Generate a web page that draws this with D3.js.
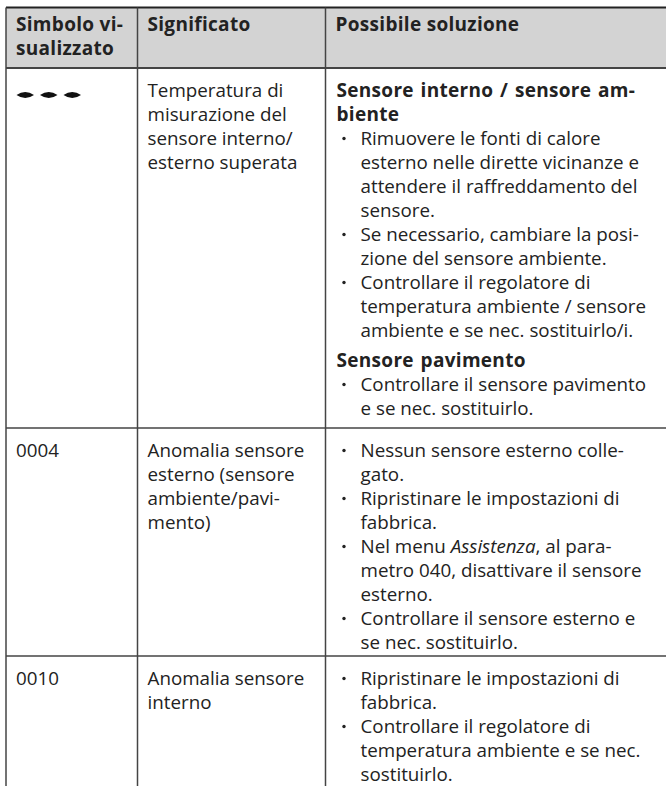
<!DOCTYPE html>
<html><head><meta charset="utf-8">
<script src="https://cdn.jsdelivr.net/npm/d3@7"></script>
<style>
html,body{margin:0;padding:0;background:#fff;}
svg{display:block;}
text{font-family:"Open Sans","Noto Sans",sans-serif;fill:#222;}
</style></head><body>
<svg id="c" width="666" height="786"></svg>
<script>
// ---- data ----
const headers = [["Simbolo vi-","sualizzato"],["Significato"],["Possibile soluzione"]];
const symbols = ["---", "0004", "0010"];
const meanings = [
  ["Temperatura di","misurazione del","sensore interno/","esterno superata"],
  ["Anomalia sensore","esterno (sensore","ambiente/pavi-","mento)"],
  ["Anomalia sensore","interno"]
];
const solutions = [
  [
    {k:"h", lines:["Sensore interno / sensore am-","biente"]},
    {k:"b", lines:["Rimuovere le fonti di calore","esterno nelle dirette vicinanze e","attendere il raffreddamento del","sensore."]},
    {k:"b", lines:["Se necessario, cambiare la posi-","zione del sensore ambiente."]},
    {k:"b", lines:["Controllare il regolatore di","temperatura ambiente / sensore","ambiente e se nec. sostituirlo/i."]},
    {k:"gap"},
    {k:"h", lines:["Sensore pavimento"]},
    {k:"b", lines:["Controllare il sensore pavimento","e se nec. sostituirlo."]}
  ],
  [
    {k:"b", lines:["Nessun sensore esterno colle-","gato."]},
    {k:"b", lines:["Ripristinare le impostazioni di","fabbrica."]},
    {k:"b", lines:["Nel menu *Assistenza*, al para-","metro 040, disattivare il sensore","esterno."]},
    {k:"b", lines:["Controllare il sensore esterno e","se nec. sostituirlo."]}
  ],
  [
    {k:"b", lines:["Ripristinare le impostazioni di","fabbrica."]},
    {k:"b", lines:["Controllare il regolatore di","temperatura ambiente e se nec.","sostituirlo."]}
  ]
];

// ---- layout ----
const svg = d3.select("#c");
const colEdges = [6, 137.5, 325.5, 672];
const tableTop = 7.5, headBottom = 68;
const rowBottoms = [428, 656, 800];
const LH = 24, FS = 18.8, FSB = 19, padX = 10, firstBase = 28.5, gap = 6;

const x = d3.scaleOrdinal().domain([0,1,2]).range(colEdges.slice(0,3));

// header background
svg.append("rect").attr("x", colEdges[0]).attr("y", tableTop).attr("width", colEdges[3]-colEdges[0])
  .attr("height", headBottom-tableTop).attr("fill", "#d3d3d3");

// header texts
headers.forEach((h,i)=>{
  const t = svg.append("text").attr("font-weight","bold").attr("font-size",FSB).attr("letter-spacing",0.3);
  h.forEach((ln,j)=>{
    t.append("tspan").attr("x", x(i)+padX).attr("y", tableTop+23.5+j*LH).text(ln);
  });
});

function writeLine(sel, str, xx, yy, bold){
  const t = sel.append("text").attr("x", xx).attr("y", yy).attr("font-size", bold ? FSB : FS);
  if(bold) t.attr("font-weight","bold").attr("letter-spacing",0.3).attr("word-spacing", 1.5);
  const parts = str.split("*");
  parts.forEach((p,i)=>{
    const ts = t.append("tspan").text(p);
    if(i%2===1) ts.attr("font-style","italic");
  });
}

const rowTops = [headBottom, rowBottoms[0], rowBottoms[1]];
const g = svg.append("g");

rowTops.forEach((rt, r)=>{
  const base = rt + firstBase;
  if(symbols[r]==="---"){
    const dashes = [[10.5,28],[34,51.5],[57.5,75]];
    dashes.forEach(([a,b])=>{
      const x0 = x(0)+a, x1 = x(0)+b, cy = base-1.5, hh=3;
      g.append("path")
        .attr("d", `M${x0},${cy} Q${(x0+x1)/2},${cy-2*hh} ${x1},${cy} Q${(x0+x1)/2},${cy+2*hh} ${x0},${cy} Z`)
        .attr("fill","#111");
    });
  } else {
    writeLine(g, symbols[r], x(0)+padX, base, false);
  }
  meanings[r].forEach((ln,j)=> writeLine(g, ln, x(1)+padX, base+j*LH, false));
  let y = base;
  solutions[r].forEach(blk=>{
    if(blk.k==="gap"){ y += gap; return; }
    blk.lines.forEach((ln,j)=>{
      if(blk.k==="h"){
        writeLine(g, ln, x(2)+padX+1, y, true);
      } else {
        if(j===0) g.append("circle").attr("cx", x(2)+padX+8.5).attr("cy", y-6).attr("r",1.7).attr("fill","#222");
        writeLine(g, ln, x(2)+padX+25, y, false);
      }
      y += LH;
    });
  });
});

// grid lines
const lines = svg.append("g").attr("fill","none");
lines.append("line").attr("x1",colEdges[0]).attr("x2",colEdges[3]).attr("y1",tableTop).attr("y2",tableTop)
  .attr("stroke","#222").attr("stroke-width",2);
lines.append("line").attr("x1",colEdges[0]).attr("x2",colEdges[3]).attr("y1",headBottom).attr("y2",headBottom)
  .attr("stroke","#444").attr("stroke-width",1.8);
rowBottoms.slice(0,2).forEach(yb=>{
  lines.append("line").attr("x1",colEdges[0]).attr("x2",colEdges[3]).attr("y1",yb).attr("y2",yb)
    .attr("stroke","#444").attr("stroke-width",1.5);
});
colEdges.slice(0,3).forEach(cx=>{
  lines.append("line").attr("x1",cx).attr("x2",cx).attr("y1",tableTop).attr("y2",800)
    .attr("stroke","#444").attr("stroke-width",1.5);
});
</script></body></html>
